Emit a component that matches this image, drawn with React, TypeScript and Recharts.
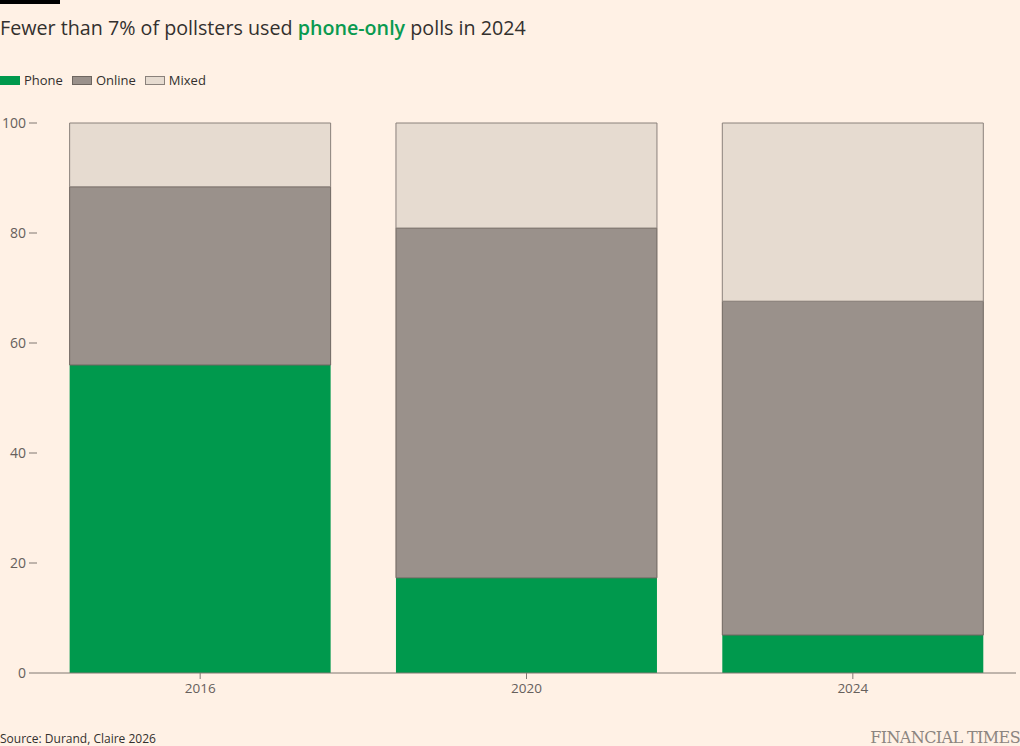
import React from 'react';
import { BarChart, Bar, XAxis, YAxis } from 'recharts';

const years = ['2016', '2020', '2024'];
const phone = [56, 17.3, 6.9];
const online = [32.4, 63.6, 60.7];
const mixed = [11.6, 19.1, 32.4];
const yTicks = [0, 20, 40, 60, 80, 100];

const data = years.map((year, i) => ({
  year,
  phone: phone[i],
  online: online[i],
  mixed: mixed[i],
}));

const font = '"Open Sans", sans-serif';
const textColor = '#33302e';
const tickColor = '#66605c';

const legendItems = [
  { label: 'Phone', color: '#00994d', border: '#00994d' },
  { label: 'Online', color: '#9a918b', border: '#6e6660' },
  { label: 'Mixed', color: '#e6dbd0', border: '#8a817b' },
];

export default function App() {
  return (
    <div
      style={{
        position: 'absolute',
        top: 0,
        left: 0,
        width: 1020,
        height: 746,
        background: '#fff1e5',
        fontFamily: font,
        color: textColor,
        overflow: 'hidden',
      }}
    >
      <div style={{ position: 'absolute', top: 0, left: 0, width: 60, height: 4, background: '#000' }} />
      <div style={{ position: 'absolute', top: 14, left: 0, fontSize: 19.7, whiteSpace: 'nowrap' }}>
        Fewer than 7% of pollsters used{' '}
        <span style={{ color: '#0a9a50', fontWeight: 600 }}>phone-only</span> polls in 2024
      </div>
      <div style={{ position: 'absolute', top: 71, left: 0, display: 'flex', fontSize: 13 }}>
        {legendItems.map((it) => (
          <div key={it.label} style={{ display: 'flex', alignItems: 'center', marginRight: 9 }}>
            <span
              style={{
                display: 'inline-block',
                width: 18,
                height: 7,
                background: it.color,
                border: `1px solid ${it.border}`,
                marginRight: 4,
              }}
            />
            {it.label}
          </div>
        ))}
      </div>

      <div style={{ position: 'absolute', top: 0, left: 0 }}>
        <BarChart
          width={1020}
          height={746}
          data={data}
          margin={{ top: 123, right: 4, left: 0, bottom: 43 }}
          barCategoryGap="10%"
        >
          <XAxis
            dataKey="year"
            height={30}
            axisLine={{ stroke: '#807973' }}
            tickLine={{ stroke: '#807973' }}
            tickSize={6}
            tickMargin={4}
            tick={{ fill: tickColor, fontSize: 13.5, fontFamily: font }}
          />
          <YAxis
            width={37}
            domain={[0, 100]}
            ticks={yTicks}
            axisLine={false}
            tickLine={{ stroke: '#807973' }}
            tickSize={8}
            tickMargin={3}
            tick={{ fill: tickColor, fontSize: 14, fontFamily: font }}
          />
          <Bar dataKey="phone" stackId="a" fill="#00994d" isAnimationActive={false} />
          <Bar dataKey="online" stackId="a" fill="#9a918b" stroke="#6e6660" strokeWidth={1} isAnimationActive={false} />
          <Bar dataKey="mixed" stackId="a" fill="#e6dbd0" stroke="#8a817b" strokeWidth={1} isAnimationActive={false} />
        </BarChart>
      </div>

      <div style={{ position: 'absolute', top: 730, left: 0, fontSize: 12, color: textColor }}>
        Source: Durand, Claire 2026
      </div>
      <div
        style={{
          position: 'absolute',
          top: 728,
          right: 0,
          fontSize: 16,
          fontFamily: '"DejaVu Serif", "Liberation Serif", serif',
          color: '#8c8580',
          letterSpacing: -0.6,
        }}
      >
        FINANCIAL TIMES
      </div>
    </div>
  );
}
